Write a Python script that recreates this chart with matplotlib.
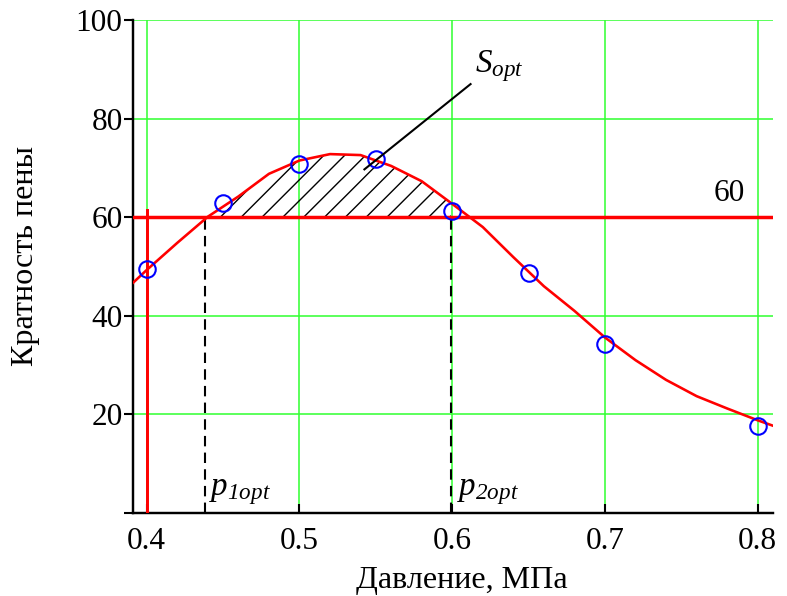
import numpy as np
import matplotlib
matplotlib.use("Agg")
import matplotlib.pyplot as plt

# measured points (blue circles)
p_data = [0.40, 0.45, 0.50, 0.55, 0.60, 0.65, 0.70, 0.80]
k_data = [49.5, 62.8, 70.8, 71.8, 61.3, 48.6, 34.3, 17.6]

# fitted curve
p_fit = [0.39, 0.40, 0.42, 0.44, 0.46, 0.48, 0.50, 0.52, 0.54, 0.56, 0.58, 0.60,
         0.62, 0.64, 0.66, 0.68, 0.70, 0.72, 0.74, 0.76, 0.78, 0.80, 0.81]
k_fit = [46.4, 49.3, 54.8, 60.1, 64.2, 68.8, 71.5, 72.8, 72.6, 70.4, 67.3, 62.7,
         58.0, 51.9, 46.0, 41.0, 35.6, 31.0, 27.0, 23.7, 21.2, 18.8, 17.7]

k_level = 60
p1_opt = 0.438
p2_opt = 0.599

xticks = [0.4, 0.5, 0.6, 0.7, 0.8]
yticks = [0, 20, 40, 60, 80, 100]
ytick_labels = ["", "20", "40", "60", "80", "100"]

plt.rcParams["font.family"] = "Liberation Serif"
plt.rcParams["mathtext.fontset"] = "custom"
# only the p/S labels use mathtext, so digits there can be italic too
plt.rcParams["mathtext.rm"] = "Liberation Serif:italic"
plt.rcParams["mathtext.it"] = "Liberation Serif:italic"
plt.rcParams["hatch.linewidth"] = 0.8

DPI = 125
fig = plt.figure(figsize=(787 / DPI, 596 / DPI), dpi=DPI)
ax = fig.add_axes([133 / 787, 83 / 596, 640 / 787, 493 / 596])

ax.set_xlim(0.391, 0.81)
ax.set_ylim(0, 100)

# grid
for x in xticks:
    ax.axvline(x, color="#33ff33", lw=0.9, zorder=1)
for y in yticks[1:]:
    ax.axhline(y, color="#33ff33", lw=0.9, zorder=1)

# hatched area S_opt
xs = np.linspace(p1_opt, p2_opt, 80)
ys = np.interp(xs, p_fit, k_fit)
ax.fill_between(xs, k_level, ys, facecolor="none", edgecolor="black",
                hatch="//", lw=0, zorder=2)

# level line and vertical line at 0.4
ax.axhline(k_level, color="red", lw=2.0, zorder=3)
ax.plot([0.4, 0.4], [0, 61.5], color="red", lw=1.7, zorder=3)

# dashed verticals
for p in (p1_opt, p2_opt):
    ax.plot([p, p], [0, k_level], color="black", lw=1.2, ls=(0, (5, 3)), zorder=3)

ax.plot(p_fit, k_fit, color="red", lw=1.5, zorder=4)
ax.plot(p_data, k_data, "o", mfc="none", mec="#0000ff", ms=9.5, mew=1.2, zorder=5)

# leader line and labels
ax.plot([0.5425, 0.612], [69.7, 87.0], color="black", lw=1.2, zorder=5)
ax.text(0.615, 89.5, r"$S_{opt}$", fontsize=19, va="baseline", ha="left")
ax.text(0.4405, 3.7, r"$p_{1opt}$", fontsize=19, va="baseline", ha="left")
ax.text(0.6032, 3.7, r"$p_{2opt}$", fontsize=19, va="baseline", ha="left")
ax.text(0.771, 63.2, "60", fontsize=18, va="baseline", ha="left")

ax.spines["top"].set_visible(False)
ax.spines["right"].set_visible(False)
ax.spines["left"].set_linewidth(1.4)
ax.spines["bottom"].set_linewidth(1.4)

ax.set_xticks(xticks)
ax.set_xticklabels(["0.4", "0.5", "0.6", "0.7", "0.8"])
ax.set_yticks(yticks)
ax.set_yticklabels(ytick_labels)
ax.tick_params(axis="x", direction="in", length=5, width=1.2, labelsize=18, pad=8)
ax.tick_params(axis="y", direction="out", length=5, width=1.2, labelsize=18, pad=1)

ax.set_xlabel("Давление, МПа", fontsize=18.5, va="baseline")
ax.xaxis.set_label_coords((462 - 133) / 640, (513 - 588) / 493)
ax.set_ylabel("Кратность пены", fontsize=18.5, va="center")
ax.yaxis.set_label_coords((26 - 133) / 640, (513 - 256) / 493)

fig.savefig("out.png", dpi=DPI)
